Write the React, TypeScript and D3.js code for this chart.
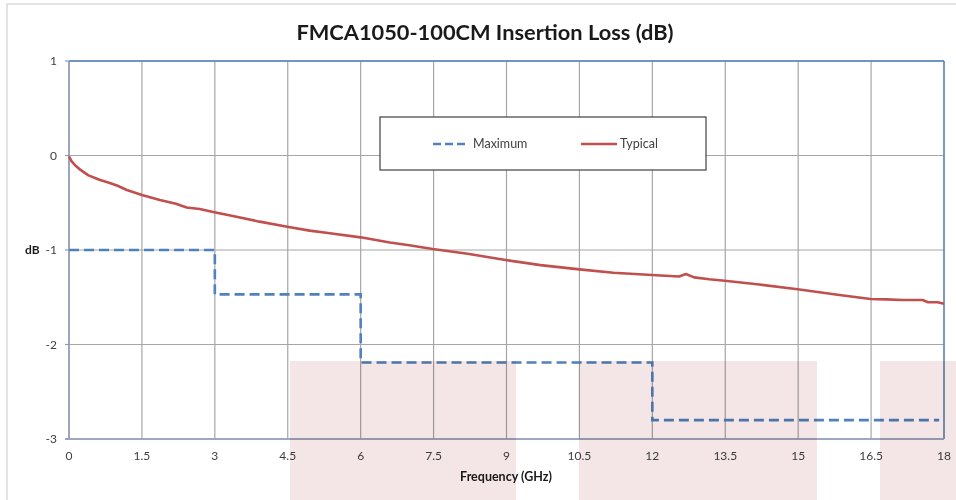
import * as d3 from 'd3'

// Frequency (GHz) / dB readings for the typical insertion loss
const typicalFreq = [
  0, 0.05, 0.12, 0.23, 0.4, 0.64, 0.84, 1.0, 1.19, 1.5, 1.87, 2.2, 2.42, 2.69, 2.99, 3.37, 3.92,
  4.49, 4.95, 5.29, 6.0, 6.6, 7.0, 7.48, 8.2, 8.98, 9.7, 10.5, 11.2, 11.99, 12.55, 12.69, 12.86,
  13.17, 13.49, 14.2, 14.99, 15.4, 15.85, 16.49, 16.8, 17.15, 17.56, 17.67, 17.87, 18,
]
const typicalDb = [
  -0.01, -0.06, -0.1, -0.15, -0.21, -0.26, -0.29, -0.32, -0.365, -0.418, -0.47, -0.51, -0.55,
  -0.566, -0.6, -0.64, -0.7, -0.753, -0.795, -0.817, -0.866, -0.92, -0.95, -0.99, -1.04, -1.106,
  -1.16, -1.205, -1.24, -1.265, -1.28, -1.254, -1.29, -1.31, -1.325, -1.365, -1.416, -1.445,
  -1.476, -1.519, -1.522, -1.529, -1.529, -1.553, -1.553, -1.57,
]

// Maximum insertion loss limit (step)
const maxFreq = [0, 3, 3, 6, 6, 12, 12, 17.9]
const maxDb = [-1, -1, -1.47, -1.47, -2.19, -2.19, -2.8, -2.8]

const xTicks = [0, 1.5, 3, 4.5, 6, 7.5, 9, 10.5, 12, 13.5, 15, 16.5, 18]
const yTicks = [1, 0, -1, -2, -3]

const font = 'Lato, "Open Sans", sans-serif'

export default function App() {
  const margin = { top: 61, right: 12, bottom: 61, left: 69 }
  const W = 956
  const H = 500

  const x = d3.scaleLinear().domain([0, 18]).range([margin.left, W - margin.right])
  const y = d3.scaleLinear().domain([-3, 1]).range([H - margin.bottom, margin.top])

  const typical = typicalFreq.map((f, i) => [f, typicalDb[i]] as [number, number])
  const maximum = maxFreq.map((f, i) => [f, maxDb[i]] as [number, number])

  const line = d3
    .line<[number, number]>()
    .x((d) => x(d[0]))
    .y((d) => y(d[1]))

  const x0 = x(0)
  const x1 = x(18)
  const yTop = y(1)
  const yBot = y(-3)

  return (
    <svg
      width={W}
      height={H}
      style={{ position: 'absolute', left: 0, top: 0, background: '#fff' }}
      fontFamily={font}
    >
      {/* chart frame */}
      <rect x={7} y={4} width={W + 20} height={H + 20} fill="#fff" stroke="#d0d0d0" strokeWidth={1.2} />

      <text x={485} y={40} textAnchor="middle" fontSize={21.8} fontWeight="bold" fill="#1a1a1a">
        FMCA1050-100CM Insertion Loss (dB)
      </text>

      {/* grid */}
      {xTicks.map((t) => (
        <line key={'gx' + t} x1={x(t)} x2={x(t)} y1={yTop} y2={yBot} stroke="#a6a6a6" strokeWidth={1.2} />
      ))}
      {yTicks.map((t) => (
        <line key={'gy' + t} x1={x0} x2={x1} y1={y(t)} y2={y(t)} stroke="#a6a6a6" strokeWidth={1.2} />
      ))}

      {/* plot border */}
      <line x1={x0} x2={x1} y1={yTop} y2={yTop} stroke="#4f81bd" strokeWidth={1.3} />
      <line x1={x1} x2={x1} y1={yTop} y2={yBot} stroke="#4f81bd" strokeWidth={1.3} />
      <line x1={x0} x2={x0} y1={yTop} y2={yBot} stroke="#8a9bb8" strokeWidth={1.5} />
      <line x1={x0 - 4} x2={x1} y1={yBot} y2={yBot} stroke="#8a9bb8" strokeWidth={1.5} />
      {yTicks.map((t) => (
        <line key={'ty' + t} x1={x0 - 4} x2={x0} y1={y(t)} y2={y(t)} stroke="#8a9bb8" strokeWidth={1.2} />
      ))}

      {/* tick labels */}
      {yTicks.map((t) => (
        <text key={'ly' + t} x={57} y={y(t) + 4} textAnchor="end" fontSize={12} fill="#404040">
          {t}
        </text>
      ))}
      {xTicks.map((t) => (
        <text key={'lx' + t} x={x(t)} y={yBot + 21} textAnchor="middle" fontSize={12} fill="#404040">
          {t}
        </text>
      ))}

      <text x={25} y={y(-1) + 4} fontSize={12} fontWeight="bold" fill="#1a1a1a">
        dB
      </text>
      <text x={506} y={yBot + 42} textAnchor="middle" fontSize={12.5} fontWeight="bold" fill="#1a1a1a">
        Frequency (GHz)
      </text>

      {/* series */}
      <path d={line(maximum) ?? ''} fill="none" stroke="#4f81bd" strokeWidth={2.6} strokeDasharray="10,5" />
      <path d={line(typical) ?? ''} fill="none" stroke="#c0504d" strokeWidth={2.6} strokeLinejoin="round" />

      {/* legend */}
      <rect x={380} y={117} width={326} height={53} fill="#fff" stroke="#404040" strokeWidth={1.2} />
      <line x1={433} x2={467} y1={144} y2={144} stroke="#4f81bd" strokeWidth={2.6} strokeDasharray="8,4" />
      <text x={473} y={148} fontSize={12.5} fill="#404040">
        Maximum
      </text>
      <line x1={581} x2={617} y1={144} y2={144} stroke="#c0504d" strokeWidth={2.6} />
      <text x={620} y={148} fontSize={12.5} fill="#404040">
        Typical
      </text>

      {/* pink overlay bands from the source image */}
      <g fill="#f4e6e6" style={{ mixBlendMode: 'multiply' }}>
        <rect x={290} y={361} width={226} height={139} />
        <rect x={579} y={361} width={238} height={139} />
        <rect x={880} y={361} width={76} height={139} />
      </g>
    </svg>
  )
}
